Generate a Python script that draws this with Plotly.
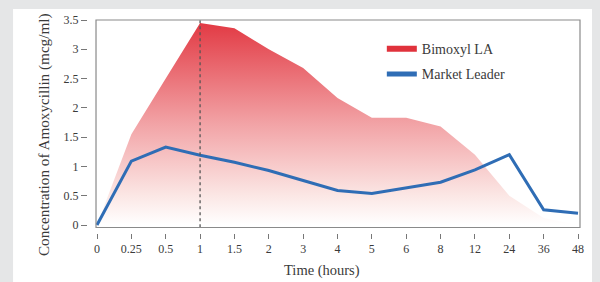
import plotly.graph_objects as go

time_labels = ["0", "0.25", "0.5", "1", "1.5", "2", "3", "4", "5", "6", "8", "12", "24", "36", "48"]
bimoxyl_la = [0, 1.55, 2.5, 3.45, 3.36, 3.0, 2.68, 2.17, 1.83, 1.83, 1.68, 1.2, 0.5, 0.12, 0]
market_leader = [0, 1.09, 1.33, 1.19, 1.07, 0.93, 0.76, 0.59, 0.54, 0.63, 0.73, 0.94, 1.2, 0.26, 0.2]
y_ticks = [0, 0.5, 1, 1.5, 2, 2.5, 3, 3.5]
y_ticktext = ["0", "0.5", "1", "1.5", "2", "2.5", "3", "3.5"]

idx = list(range(len(time_labels)))
peak_idx = bimoxyl_la.index(max(bimoxyl_la))

FONT = "Liberation Serif"
TXT = "#3a3a3a"
RED = "#e0323c"
BLUE = "#2f6db5"

fig = go.Figure()

fig.add_trace(go.Scatter(
    x=idx, y=bimoxyl_la, mode="lines", line=dict(width=0, color=RED),
    fill="tozeroy",
    fillgradient=dict(type="vertical", start=0, stop=3.45,
                      colorscale=[[0, "rgba(255,255,255,1)"], [0.15, "#fbe6e4"],
                                  [0.5, "#f2a3a6"], [1, "#e23a44"]]),
    showlegend=False, hoverinfo="skip"))

fig.add_trace(go.Scatter(
    x=idx, y=market_leader, mode="lines", line=dict(width=3, color=BLUE),
    showlegend=False))

# legend proxies
fig.add_trace(go.Scatter(x=[None], y=[None], mode="lines", name="Bimoxyl LA",
                         line=dict(width=6, color=RED), legendgroup="a"))
fig.add_trace(go.Scatter(x=[None], y=[None], mode="lines", name="Market Leader",
                         line=dict(width=5, color=BLUE), legendgroup="b"))

# dotted line at peak
fig.add_shape(type="line", x0=peak_idx, x1=peak_idx, y0=-0.04, y1=3.5,
              line=dict(color="#555555", width=1.3, dash="dot"), layer="above")
# frame
fig.add_shape(type="rect", x0=-0.029, x1=14.058, y0=-0.043, y1=3.5,
              line=dict(color="#8a8a8a", width=1.2), layer="above")
# white panel
fig.add_shape(type="rect", xref="paper", yref="paper", x0=-0.152, x1=1.0223,
              y0=-0.35, y1=1.0467, fillcolor="white", line=dict(width=0), layer="below")

fig.add_annotation(text="Concentration of Amoxycillin (mcg/ml)", xref="paper", yref="paper",
                   x=-0.0892, y=0.458, textangle=-90, showarrow=False,
                   font=dict(family=FONT, size=15.2, color=TXT), xanchor="center", yanchor="middle")
fig.add_annotation(text="Time (hours)", xref="paper", yref="paper",
                   x=0.4746, y=-0.1729, showarrow=False,
                   font=dict(family=FONT, size=14.5, color=TXT), xanchor="center", yanchor="middle")

fig.update_layout(
    width=600, height=282,
    margin=dict(l=88, r=19, t=19, b=49),
    paper_bgcolor="#e5e6e7", plot_bgcolor="white",
    font=dict(family=FONT, size=12, color=TXT),
    legend=dict(x=0.596, y=0.934, xanchor="left", yanchor="top",
                bgcolor="rgba(0,0,0,0)", font=dict(family=FONT, size=14, color=TXT),
                tracegroupgap=4, itemwidth=30),
    xaxis=dict(range=[-0.262, 14.087], tickmode="array", tickvals=idx, ticktext=time_labels,
               showgrid=False, zeroline=False, showline=False, ticks="outside",
               ticklen=5, tickcolor="#777777", tickwidth=1,
               tickfont=dict(family=FONT, size=12, color=TXT)),
    yaxis=dict(range=[-0.1366, 3.517], tickmode="array", tickvals=y_ticks, ticktext=y_ticktext,
               showgrid=False, zeroline=False, showline=False, ticks="outside",
               ticklen=6, tickcolor="#777777", tickwidth=1,
               tickfont=dict(family=FONT, size=12, color=TXT)),
)

fig.write_html("out.html", config={"displayModeBar": False},
               post_script="document.body.style.margin='0px';")
